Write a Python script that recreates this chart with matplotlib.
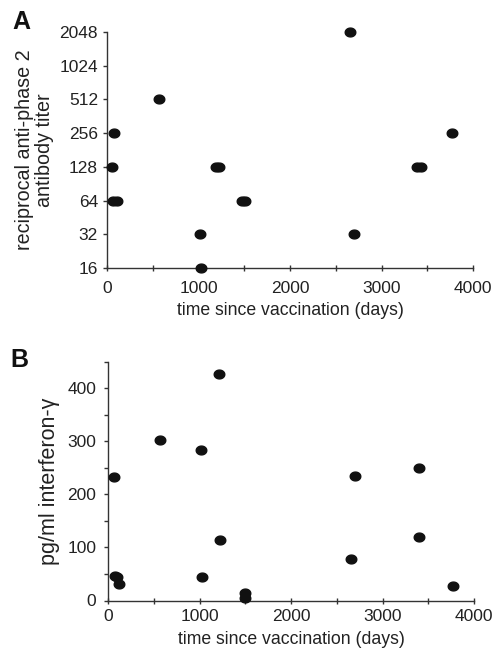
import numpy as np
import matplotlib
matplotlib.use("Agg")
import matplotlib.pyplot as plt
from matplotlib.path import Path
from matplotlib.ticker import FixedLocator

plt.rcParams['font.family'] = ['Liberation Sans', 'DejaVu Sans']

# Panel A: antibody titer
a_days = [2659, 569, 77, 3775, 58, 1195, 1225, 3390, 3430, 70, 110, 1470, 1510, 1017, 2695, 1028]
a_titer = [2048, 512, 256, 256, 128, 128, 128, 128, 128, 64, 64, 64, 64, 32, 32, 16]
a_ticks = [16, 32, 64, 128, 256, 512, 1024, 2048]

# Panel B: interferon-gamma
b_days = [62, 75, 95, 120, 572, 1020, 1031, 1217, 1221, 1501, 1501, 2660, 2700, 3403, 3403, 3775]
b_ifn = [233, 46, 45, 31, 303, 283, 45, 427, 114, 14, 5, 78, 235, 249, 119, 28]
b_ticks = [0, 100, 200, 300, 400]
b_minor = [50, 150, 250, 350, 450]

x_major = [0, 1000, 2000, 3000, 4000]
x_minor = [500, 1500, 2500, 3500]

theta = np.linspace(0, 2 * np.pi, 60)
ell = Path(np.column_stack([1.2 * np.cos(theta), np.sin(theta)]), closed=True)

fig = plt.figure(figsize=(4.92, 6.52), dpi=100)
axA = fig.add_axes([107 / 492, 1 - 268 / 652, 366 / 492, 236 / 652])
axB = fig.add_axes([108 / 492, 1 - 600.5 / 652, 366 / 492, 239 / 652])

tc = '#222222'
for ax, xpad, ypad in ((axA, 7, 3.5), (axB, 4, 5.5)):
    for s in ('top', 'right'):
        ax.spines[s].set_visible(False)
    for s in ('left', 'bottom'):
        ax.spines[s].set_linewidth(1.0)
        ax.spines[s].set_color('#333333')
    ax.set_xlim(0, 4000)
    ax.xaxis.set_major_locator(FixedLocator(x_major))
    ax.xaxis.set_minor_locator(FixedLocator(x_minor))
    ax.tick_params(axis='x', which='both', direction='inout', length=4, width=1, colors='#333333',
                   labelcolor=tc, labelsize=12.5, pad=xpad)
    ax.tick_params(axis='y', which='both', direction='out', length=3, width=1, colors='#333333',
                   labelcolor=tc, labelsize=12.5, pad=ypad)
    ax.set_xlabel('time since vaccination (days)', fontsize=12.7, color=tc, labelpad=5)

axA.scatter(a_days, a_titer, marker=ell, s=58, color='#111111', zorder=3, clip_on=False)
axA.set_yscale('log', base=2)
axA.set_ylim(16, 2048)
axA.yaxis.set_major_locator(FixedLocator(a_ticks))
axA.yaxis.set_minor_locator(FixedLocator([]))
axA.set_yticklabels([str(t) for t in a_ticks])
axA.set_ylabel('reciprocal anti-phase 2\nantibody titer', fontsize=14.2, color=tc, labelpad=4,
               linespacing=1.05)

axB.scatter(b_days, b_ifn, marker=ell, s=58, color='#111111', zorder=3, clip_on=False)
axB.set_ylim(0, 450)
axB.yaxis.set_major_locator(FixedLocator(b_ticks))
axB.yaxis.set_minor_locator(FixedLocator(b_minor))
axB.set_ylabel('pg/ml interferon-γ', fontsize=15.5, color=tc, labelpad=5)

fig.text(12 / 492, 1 - 22 / 652, 'A', fontsize=18, fontweight='bold', color='#111111', va='center')
fig.text(10 / 492, 1 - 360 / 652, 'B', fontsize=18, fontweight='bold', color='#111111', va='center')

fig.savefig('out.png', dpi=100)
